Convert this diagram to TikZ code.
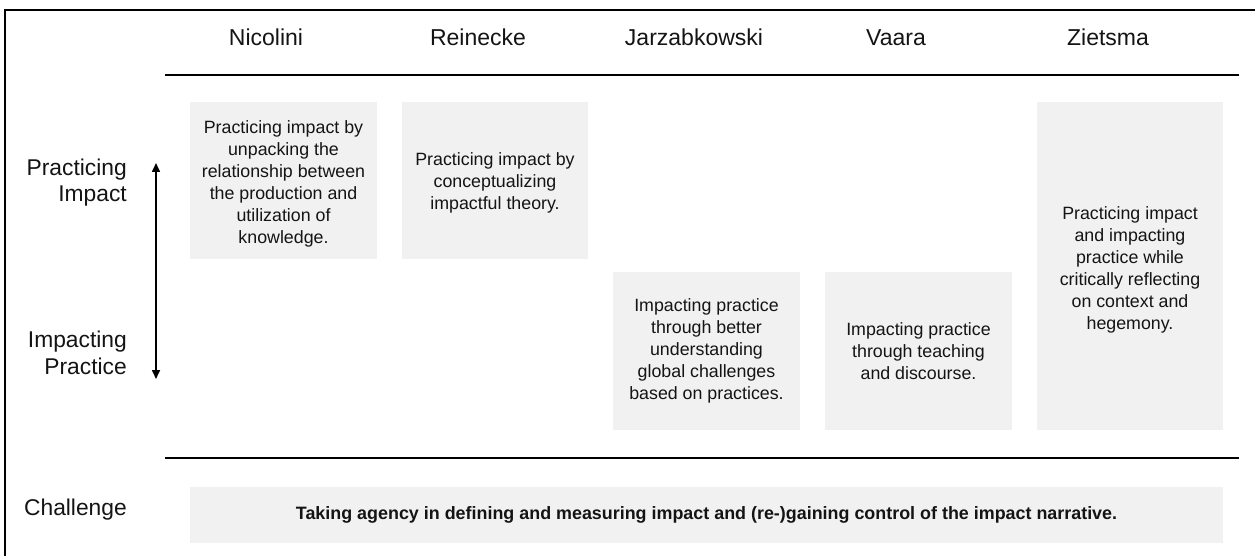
\documentclass[tikz,border=0pt]{standalone}
\usepackage{fontspec}
\setmainfont{Liberation Sans}
\usetikzlibrary{arrows.meta}
\definecolor{boxgray}{RGB}{241,241,241}
\definecolor{ink}{RGB}{20,20,20}
\begin{document}
\begin{tikzpicture}[x=1pt,y=-1pt,
  header/.style={anchor=base,text=ink,font=\fontsize{23}{26}\selectfont,inner sep=0pt},
  sidelabel/.style={anchor=base east,align=right,text=ink,font=\fontsize{22.8}{26.5}\selectfont,inner sep=0pt},
  cellbox/.style={fill=boxgray,draw=none},
  celltext/.style={align=center,text=ink,font=\fontsize{17.8}{22}\selectfont,inner sep=0pt},
  rule/.style={line width=2pt,draw=black}]
\useasboundingbox (0,0) rectangle (1255,556);
\fill[white] (0,0) rectangle (1255,556);
% outer frame (only left and top visible)
\draw[line width=2pt] (4.5,556) -- (4.5,10.5) -- (1255,10.5);
% headers
\node[header] (hN) at (266,46) {Nicolini};
\node[header] (hR) at (478,46) {Reinecke};
\node[header] (hJ) at (694,46) {Jarzabkowski};
\node[header] (hV) at (896,46) {Vaara};
\node[header] (hZ) at (1108,46) {Zietsma};
% rules
\coordinate (r1a) at (165,75); \coordinate (r1b) at (1239,75);
\coordinate (r2a) at (165,458); \coordinate (r2b) at (1239,458);
\draw[rule] (r1a) -- (r1b);
\draw[rule] (r2a) -- (r2b);
% boxes
\fill[cellbox] (190,102) rectangle (377,259);
\fill[cellbox] (402,102) rectangle (588,259);
\fill[cellbox] (613,272) rectangle (800,430);
\fill[cellbox] (825,272) rectangle (1012,430);
\fill[cellbox] (1037,102) rectangle (1223,430);
\fill[cellbox] (190,487) rectangle (1223,543);
% box texts
\node[celltext] (tN) at (283.5,184) {Practicing impact by\\unpacking the\\relationship between\\the production and\\utilization of\\knowledge.};
\node[celltext] (tR) at (495,183) {Practicing impact by\\conceptualizing\\impactful theory.};
\node[celltext] (tJ) at (706.5,351) {Impacting practice\\through better\\understanding\\global challenges\\based on practices.};
\node[celltext] (tV) at (918.5,351) {Impacting practice\\through teaching\\and discourse.};
\node[celltext] (tZ) at (1130,270) {Practicing impact\\and impacting\\practice while\\critically reflecting\\on context and\\hegemony.};
\node[text=ink,font=\fontsize{17.9}{20}\selectfont\bfseries,inner sep=0pt] (tC) at (706.5,515) {Taking agency in defining and measuring impact and (re-)gaining control of the impact narrative.};
% side labels
\node[sidelabel] (lP) at (127,201.7) {Practicing\\Impact};
\node[sidelabel] (lI) at (127,374) {Impacting\\Practice};
\node[sidelabel] (lC) at (127,515) {Challenge};
% arrow
\coordinate (aT) at (156,163);
\coordinate (aB) at (156,379);
\draw[line width=1.6pt,{Triangle[length=9pt,width=8pt]}-{Triangle[length=9pt,width=8pt]}] (aT) -- (aB);
\end{tikzpicture}
\end{document}
